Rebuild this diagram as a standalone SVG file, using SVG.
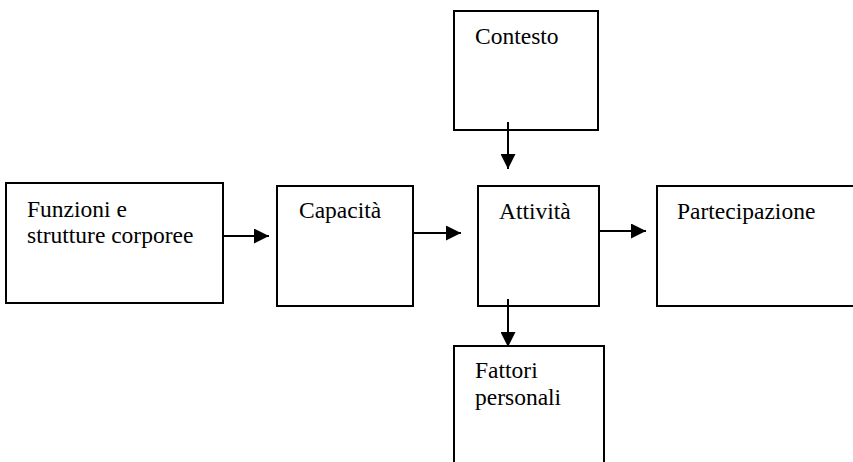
<svg xmlns="http://www.w3.org/2000/svg" width="853" height="462" viewBox="0 0 853 462">
<style>
.box{fill:#fff;stroke:#000;stroke-width:2}
.t{font-family:"Liberation Serif","Times New Roman",serif;font-size:23.5px;fill:#000}
.c{stroke:#000;stroke-width:2;fill:none}
</style>
<defs>
<marker id="ah" viewBox="0 0 15 15" refX="15" refY="7.5" markerWidth="15" markerHeight="15" markerUnits="userSpaceOnUse" orient="auto">
<path d="M0,0 L15,7.5 L0,15 Z" fill="#000"/>
</marker>
</defs>
<rect width="853" height="462" fill="#fff"/>
<g id="contesto"><rect class="box" x="454" y="11" width="144" height="119"/><text class="t" x="475" y="44">Contesto</text></g>
<g id="funzioni"><rect class="box" x="6" y="183" width="217" height="120"/><text class="t" x="27" y="217">Funzioni e</text><text class="t" x="27" y="243">strutture corporee</text></g>
<g id="capacita"><rect class="box" x="277" y="186" width="136" height="120"/><text class="t" x="299" y="218">Capacità</text></g>
<g id="attivita"><rect class="box" x="478" y="186" width="121" height="120"/><text class="t" x="499" y="219">Attività</text></g>
<g id="partecipazione"><rect class="box" x="657" y="186" width="210" height="120"/><text class="t" x="677" y="219">Partecipazione</text></g>
<g id="fattori"><rect class="box" x="454" y="346" width="150" height="130"/><text class="t" x="475" y="378">Fattori</text><text class="t" x="475" y="405">personali</text></g>
<g id="connectors">
<line class="c" x1="508" y1="122" x2="508" y2="169" marker-end="url(#ah)"/>
<line class="c" x1="223" y1="236" x2="269" y2="236" marker-end="url(#ah)"/>
<line class="c" x1="413" y1="233" x2="461" y2="233" marker-end="url(#ah)"/>
<line class="c" x1="599" y1="231" x2="646" y2="231" marker-end="url(#ah)"/>
<line class="c" x1="508" y1="299" x2="508" y2="347" marker-end="url(#ah)"/>
</g>
</svg>
